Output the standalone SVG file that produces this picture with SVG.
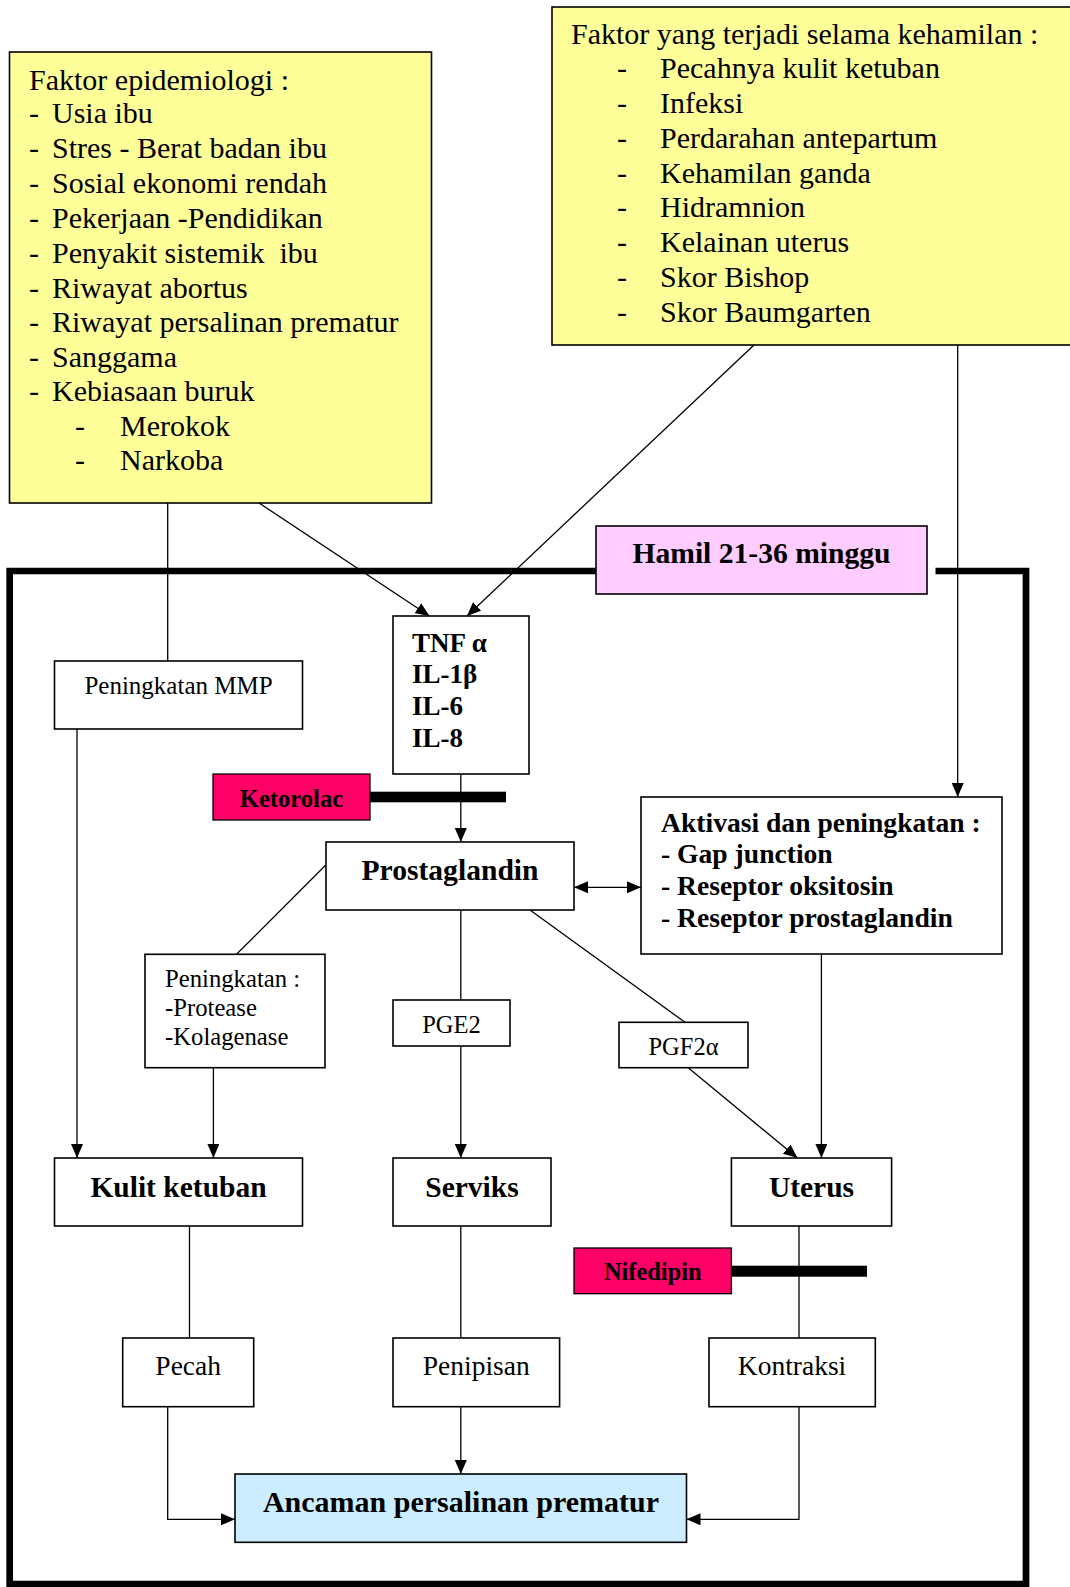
<svg xmlns="http://www.w3.org/2000/svg" width="1070" height="1587" viewBox="0 0 1070 1587">
<style>
text{font-family:"Liberation Serif","Times New Roman",serif;fill:#000}
.box{fill:#fff;stroke:#000;stroke-width:1.6}
.yel{fill:#FFFF99;stroke:#000;stroke-width:1.6}
.b{font-weight:bold}
.c{text-anchor:middle}
.ln{stroke:#000;stroke-width:1.3;fill:none}
.big{font-size:29.5px}
</style>
<defs>
<marker id="arr" viewBox="0 0 14 12" refX="14" refY="6" markerWidth="14" markerHeight="12" orient="auto-start-reverse" markerUnits="userSpaceOnUse">
<path d="M0,0 L14,6 L0,12 z" fill="#000"/>
</marker>
</defs>
<rect width="1070" height="1587" fill="#fff"/>

<g id="frame">
<path d="M596,571 H9.7 V1584 H1026 V571 H935.5" fill="none" stroke="#000" stroke-width="6.7"/>
</g>

<g id="connectors">
<line class="ln" x1="167.7" y1="503" x2="167.7" y2="661"/>
<line class="ln" x1="259" y1="503" x2="429.5" y2="616" marker-end="url(#arr)"/>
<line class="ln" x1="754" y1="345" x2="467" y2="616" marker-end="url(#arr)"/>
<line class="ln" x1="957.7" y1="345" x2="957.7" y2="797" marker-end="url(#arr)"/>
<line class="ln" x1="460.8" y1="774" x2="460.8" y2="842" marker-end="url(#arr)"/>
<line class="ln" x1="574" y1="887.3" x2="641" y2="887.3" marker-start="url(#arr)" marker-end="url(#arr)"/>
<line class="ln" x1="325.8" y1="865" x2="236.5" y2="954.3"/>
<line class="ln" x1="460.8" y1="910" x2="460.8" y2="1000"/>
<line class="ln" x1="460.8" y1="1046" x2="460.8" y2="1158" marker-end="url(#arr)"/>
<line class="ln" x1="530" y1="910" x2="685" y2="1022.3"/>
<line class="ln" x1="688.5" y1="1068" x2="797.5" y2="1158" marker-end="url(#arr)"/>
<line class="ln" x1="821.4" y1="954" x2="821.4" y2="1158" marker-end="url(#arr)"/>
<line class="ln" x1="77" y1="729" x2="77" y2="1158" marker-end="url(#arr)"/>
<line class="ln" x1="213.4" y1="1068" x2="213.4" y2="1158" marker-end="url(#arr)"/>
<line class="ln" x1="189.5" y1="1226" x2="189.5" y2="1338"/>
<line class="ln" x1="460.8" y1="1226" x2="460.8" y2="1338"/>
<line class="ln" x1="799" y1="1226" x2="799" y2="1338"/>
<polyline class="ln" points="167.7,1407 167.7,1519.3 235,1519.3" marker-end="url(#arr)"/>
<line class="ln" x1="460.8" y1="1407" x2="460.8" y2="1474" marker-end="url(#arr)"/>
<polyline class="ln" points="799,1407 799,1519.3 686.5,1519.3" marker-end="url(#arr)"/>
</g>

<g id="faktor-epidemiologi">
<rect class="yel" x="9.5" y="52" width="422" height="451"/>
<g font-size="30">
<text x="29" y="90">Faktor epidemiologi :</text>
<text x="29" y="123.3">-</text><text x="52" y="123.3">Usia ibu</text>
<text x="29" y="158.3">-</text><text x="52" y="158.3">Stres - Berat badan ibu</text>
<text x="29" y="193.3">-</text><text x="52" y="193.3">Sosial ekonomi rendah</text>
<text x="29" y="227.7">-</text><text x="52" y="227.7">Pekerjaan -Pendidikan</text>
<text x="29" y="262.7">-</text><text x="52" y="262.7" xml:space="preserve">Penyakit sistemik  ibu</text>
<text x="29" y="297.7">-</text><text x="52" y="297.7">Riwayat abortus</text>
<text x="29" y="331.7">-</text><text x="52" y="331.7">Riwayat persalinan prematur</text>
<text x="29" y="366.7">-</text><text x="52" y="366.7">Sanggama</text>
<text x="29" y="401">-</text><text x="52" y="401">Kebiasaan buruk</text>
<text x="75" y="436">-</text><text x="120" y="436">Merokok</text>
<text x="75" y="470">-</text><text x="120" y="470">Narkoba</text>
</g>
</g>

<g id="faktor-kehamilan">
<rect class="yel" x="552" y="7" width="525" height="338"/>
<g font-size="30">
<text x="571" y="44">Faktor yang terjadi selama kehamilan :</text>
<text x="617" y="78.3">-</text><text x="660" y="78.3">Pecahnya kulit ketuban</text>
<text x="617" y="112.7">-</text><text x="660" y="112.7">Infeksi</text>
<text x="617" y="147.7">-</text><text x="660" y="147.7">Perdarahan antepartum</text>
<text x="617" y="182.7">-</text><text x="660" y="182.7">Kehamilan ganda</text>
<text x="617" y="217.3">-</text><text x="660" y="217.3">Hidramnion</text>
<text x="617" y="251.7">-</text><text x="660" y="251.7">Kelainan uterus</text>
<text x="617" y="286.7">-</text><text x="660" y="286.7">Skor Bishop</text>
<text x="617" y="321.7">-</text><text x="660" y="321.7">Skor Baumgarten</text>
</g>
</g>

<g id="hamil">
<rect x="596" y="526" width="331" height="68" fill="#FFCCFF" stroke="#000" stroke-width="1.6"/>
<text class="b c" x="761.5" y="563" font-size="29.6">Hamil 21-36 minggu</text>
</g>

<g id="tnf">
<rect class="box" x="393" y="616" width="136" height="158"/>
<g class="b" font-size="27">
<text x="412" y="651.7">TNF α</text>
<text x="412" y="683">IL-1β</text>
<text x="412" y="715">IL-6</text>
<text x="412" y="746.7">IL-8</text>
</g>
</g>

<g id="mmp">
<rect class="box" x="54.5" y="661" width="248" height="68"/>
<text class="c" x="178.5" y="694" font-size="25">Peningkatan MMP</text>
</g>

<g id="ketorolac">
<rect x="213" y="774" width="157" height="46" fill="#FF0066" stroke="#000" stroke-width="1.3"/>
<text class="b c" x="291.5" y="806.7" font-size="24.6">Ketorolac</text>
<rect x="370" y="791.7" width="136" height="10.6" fill="#000"/>
</g>

<g id="prostaglandin">
<rect class="box" x="326" y="842" width="248" height="68"/>
<text class="b c" x="450" y="880" font-size="29.6">Prostaglandin</text>
</g>

<g id="aktivasi">
<rect class="box" x="641" y="797" width="361" height="157"/>
<g class="b" font-size="27.6">
<text x="661" y="832.3">Aktivasi dan peningkatan :</text>
<text x="661" y="863.3">- Gap junction</text>
<text x="661" y="895">- Reseptor oksitosin</text>
<text x="661" y="926.7">- Reseptor prostaglandin</text>
</g>
</g>

<g id="peningkatan-protease">
<rect class="box" x="145" y="954.3" width="180" height="113.4"/>
<g font-size="24.7">
<text x="165" y="986.7">Peningkatan :</text>
<text x="165" y="1016">-Protease</text>
<text x="165" y="1045">-Kolagenase</text>
</g>
</g>

<g id="pge2">
<rect class="box" x="393" y="1000" width="117" height="46"/>
<text class="c" x="451.5" y="1032.7" font-size="24.5">PGE2</text>
</g>

<g id="pgf2a">
<rect class="box" x="619" y="1022.3" width="129" height="45.4"/>
<text class="c" x="683.5" y="1055" font-size="24.5">PGF2α</text>
</g>

<g id="kulit-ketuban">
<rect class="box" x="54.5" y="1158" width="248" height="68"/>
<text class="b c big" x="178.5" y="1197">Kulit ketuban</text>
</g>

<g id="serviks">
<rect class="box" x="393" y="1158" width="158" height="68"/>
<text class="b c big" x="472" y="1197">Serviks</text>
</g>

<g id="uterus">
<rect class="box" x="731.4" y="1158" width="160.2" height="68"/>
<text class="b c big" x="811.5" y="1197">Uterus</text>
</g>

<g id="nifedipin">
<rect x="574" y="1248" width="157.4" height="45.7" fill="#FF0066" stroke="#000" stroke-width="1.3"/>
<text class="b c" x="652.7" y="1280" font-size="24.4">Nifedipin</text>
<rect x="731.4" y="1265.7" width="135.6" height="11" fill="#000"/>
</g>

<g id="pecah">
<rect class="box" x="122.7" y="1338" width="131" height="68.7"/>
<text class="c" x="188.2" y="1375" font-size="27.5">Pecah</text>
</g>

<g id="penipisan">
<rect class="box" x="393" y="1338" width="166.6" height="68.7"/>
<text class="c" x="476.3" y="1375" font-size="27.5">Penipisan</text>
</g>

<g id="kontraksi">
<rect class="box" x="709" y="1338" width="166.3" height="68.7"/>
<text class="c" x="792" y="1375" font-size="27.5">Kontraksi</text>
</g>

<g id="ancaman">
<rect x="235" y="1474" width="451.5" height="68.3" fill="#CCECFF" stroke="#000" stroke-width="1.6"/>
<text class="b c" x="461" y="1512" font-size="30">Ancaman persalinan prematur</text>
</g>
</svg>
